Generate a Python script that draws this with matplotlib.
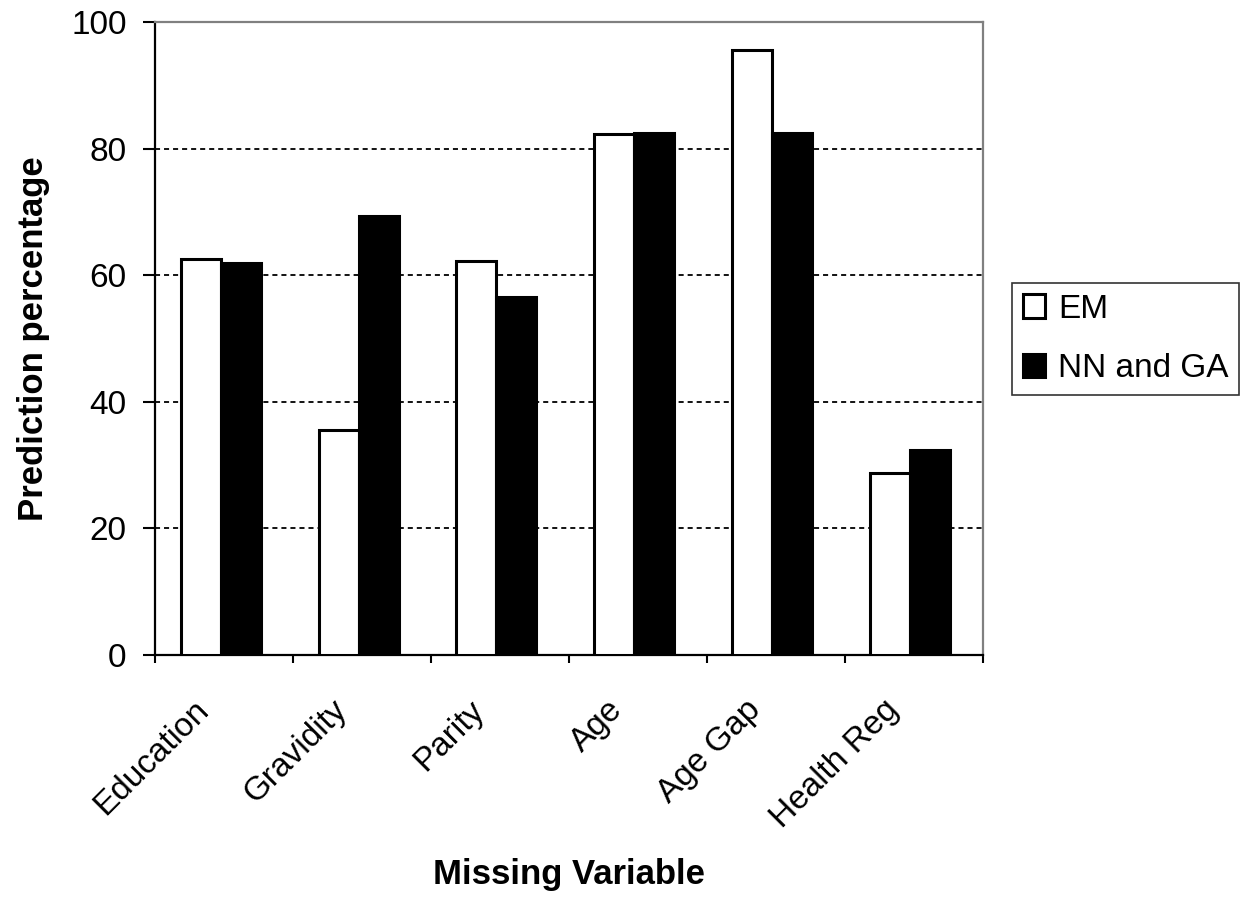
import numpy as np
import matplotlib
matplotlib.use('Agg')
import matplotlib.pyplot as plt
import matplotlib.transforms as mtransforms

plt.rcParams['font.family'] = ['Liberation Sans', 'DejaVu Sans']

categories = ['Education', 'Gravidity', 'Parity', 'Age', 'Age Gap', 'Health Reg']
em = [62.6, 35.5, 62.3, 82.3, 95.5, 28.7]
nn_ga = [61.9, 69.4, 56.5, 82.5, 82.5, 32.4]

fig = plt.figure(figsize=(12.43, 8.98), dpi=100)
ax = fig.add_axes([0.1247, 0.2706, 0.666, 0.705])

index = np.arange(len(categories))
bar_width = 0.29
ax.bar(index - 0.17, em, bar_width, color='white', edgecolor='black', linewidth=2.2, label='EM', zorder=3)
ax.bar(index + 0.12, nn_ga, bar_width, color='black', edgecolor='black', linewidth=2.2, label='NN and GA', zorder=3)

ax.set_xlim(-0.5, len(categories) - 0.5)
ax.set_ylim(0, 100)
ax.set_yticks(range(0, 101, 20))
ax.yaxis.grid(True, linestyle=(0, (2.8, 2.2)), color='black', linewidth=1.3, zorder=0)
ax.set_axisbelow(True)

# tick marks between categories, labels in the middle
ax.set_xticks(np.arange(-0.5, len(categories), 1.0))
ax.set_xticklabels([])
ax.set_xticks(index, minor=True)
ax.set_xticklabels(categories, minor=True, rotation=45, ha='right', rotation_mode='anchor', fontsize=24)
ax.tick_params(axis='x', which='minor', length=0, pad=28.5)
ax.tick_params(axis='x', which='major', length=6, width=1.5, direction='out')
ax.tick_params(axis='y', length=8.5, width=1.5, direction='out', labelsize=24, pad=12)
shift = mtransforms.ScaledTranslation(-22.3 / 72, 0, fig.dpi_scale_trans)
for lab in ax.get_xticklabels(minor=True):
    lab.set_transform(lab.get_transform() + shift)

for s in ['left', 'bottom']:
    ax.spines[s].set_color('black')
    ax.spines[s].set_linewidth(1.6)
for s in ['top', 'right']:
    ax.spines[s].set_color('#808080')
    ax.spines[s].set_linewidth(1.6)

ax.set_xlabel('Missing Variable', fontsize=25, fontweight='bold')
ax.xaxis.set_label_coords(0.5, -0.32)
ax.set_ylabel('Prediction percentage', fontsize=25, fontweight='bold', labelpad=15)

leg = fig.legend(loc='upper left', bbox_to_anchor=(1012 / 1243, 1 - 283 / 898), fontsize=24,
                 fancybox=False, edgecolor='black', handlelength=0.66, handleheight=0.7,
                 handletextpad=0.4, labelspacing=0.85, borderpad=0.32, borderaxespad=0)
leg.get_frame().set_linewidth(1.2)

plt.savefig('out.png', dpi=100)
